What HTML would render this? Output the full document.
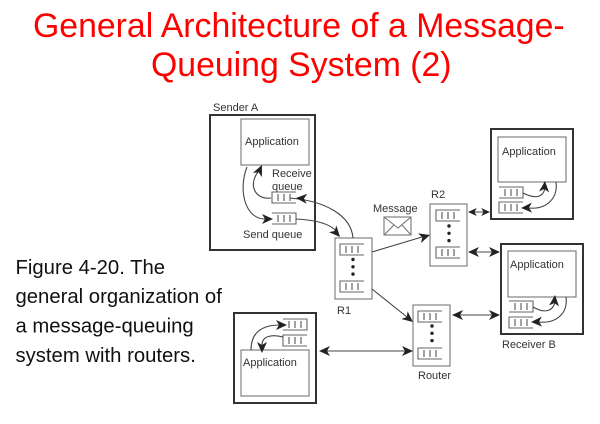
<!DOCTYPE html>
<html><head><meta charset="utf-8"><style>
html,body{margin:0;padding:0;background:#fff}
svg{display:block;position:absolute;left:0;top:0}
.t{font-family:"Liberation Sans",sans-serif}
</style></head><body>
<svg width="600" height="424" viewBox="0 0 600 424" xmlns="http://www.w3.org/2000/svg">
<defs>
<filter id="b" x="-5%" y="-5%" width="110%" height="110%"><feGaussianBlur stdDeviation="0.3"/></filter>
<g id="qL" fill="none" stroke="#666" stroke-width="1.1"><path d="M24 0H0V11H24"/><path d="M6 2V9M12 2V9M18 2V9" stroke="#555"/></g>
<g id="qR" fill="none" stroke="#666" stroke-width="1.1"><path d="M0 0H24V11H0"/><path d="M6 2V9M12 2V9M18 2V9" stroke="#555"/></g>
<path id="ah" d="M0 0L-11 -5L-8 0L-11 5Z" fill="#222"/>
<g id="dots" fill="#222"><circle cx="0" cy="0" r="1.7"/><circle cx="0" cy="7.3" r="1.7"/><circle cx="0" cy="14.6" r="1.7"/></g>
</defs>

<text class="t" x="33" y="37" font-size="33.8" fill="#f00">General Architecture of a Message-</text>
<text class="t" x="151" y="76" font-size="33.8" fill="#f00">Queuing System (2)</text>

<g class="t" font-size="20.3" fill="#111">
<text x="15.5" y="274">Figure 4-20. The</text>
<text x="15.5" y="303">general organization of</text>
<text x="15.5" y="332.5">a message-queuing</text>
<text x="15.5" y="362">system with routers.</text>
</g>

<g filter="url(#b)">
<!-- outer boxes -->
<g fill="none" stroke="#333" stroke-width="2">
<rect x="210" y="115" width="105" height="135"/>
<rect x="491" y="129" width="82" height="90"/>
<rect x="501" y="244" width="82" height="90"/>
<rect x="234" y="313" width="82" height="90"/>
</g>
<!-- applications & routers -->
<g fill="#fff" stroke="#777" stroke-width="1.1">
<rect x="241" y="119" width="68" height="46"/>
<rect x="498" y="137" width="68" height="45"/>
<rect x="508" y="251" width="68" height="46"/>
<rect x="241" y="350" width="68" height="46"/>
<rect x="335" y="238" width="37" height="61"/>
<rect x="430" y="204" width="37" height="62"/>
<rect x="413" y="305" width="37" height="61"/>
</g>
<!-- queues -->
<use href="#qL" x="272" y="192"/>
<use href="#qR" x="272" y="213"/>
<use href="#qR" x="499" y="187"/>
<use href="#qL" x="499" y="202"/>
<use href="#qR" x="509" y="301"/>
<use href="#qL" x="509" y="317"/>
<use href="#qR" x="283" y="319"/>
<use href="#qL" x="283" y="335"/>
<use href="#qL" x="340" y="244"/>
<use href="#qL" x="340" y="281"/>
<use href="#qL" x="436" y="210"/>
<use href="#qL" x="436" y="247"/>
<use href="#qL" x="418" y="311"/>
<use href="#qL" x="418" y="348"/>
<use href="#dots" x="353" y="259.5"/>
<use href="#dots" x="449" y="226"/>
<use href="#dots" x="432" y="326"/>

<!-- connectors -->
<g fill="none" stroke="#444" stroke-width="1.1">
<path d="M271 198C255 200 248 185 258 172"/>
<path d="M247 167C238 190 245 219 265 219"/>
<path d="M296 219C316 220 330 224 336 231"/>
<path d="M353 238C351 215 325 201 290 198"/>
<path d="M372 252L422 237"/>
<path d="M372 289L407 317"/>
<path d="M523 193C535 199 543 198 545 188"/>
<path d="M556 182C558 197 548 210 528 208"/>
<path d="M533 307C545 314 553 311 555 302"/>
<path d="M566 297C568 312 558 324 538 322"/>
<path d="M251 350C251 332 262 325 280 325"/>
<path d="M283 337C272 334 262 336 262 345"/>
<path d="M470 212H487"/>
<path d="M470 252H497"/>
<path d="M454 315H497"/>
<path d="M322 351H409"/>
</g>
<!-- arrowheads -->
<use href="#ah" transform="translate(262,165) rotate(-65)"/>
<use href="#ah" transform="translate(273,219)"/>
<use href="#ah" transform="translate(340,237) rotate(48)"/>
<use href="#ah" transform="translate(296,198) rotate(184)"/>
<use href="#ah" transform="translate(430,235) rotate(-17)"/>
<use href="#ah" transform="translate(413,322) rotate(39)"/>
<use href="#ah" transform="translate(545,181) rotate(-85)"/>
<use href="#ah" transform="translate(521,208) rotate(178)"/>
<use href="#ah" transform="translate(555,295) rotate(-85)"/>
<use href="#ah" transform="translate(531,322) rotate(178)"/>
<use href="#ah" transform="translate(287,325)"/>
<use href="#ah" transform="translate(262,353) rotate(90)"/>
<use href="#ah" transform="translate(468,212) rotate(180) scale(.8)"/>
<use href="#ah" transform="translate(490,212) scale(.8)"/>
<use href="#ah" transform="translate(468,252) rotate(180)"/>
<use href="#ah" transform="translate(500,252)"/>
<use href="#ah" transform="translate(452,315) rotate(180)"/>
<use href="#ah" transform="translate(500,315)"/>
<use href="#ah" transform="translate(319,351) rotate(180)"/>
<use href="#ah" transform="translate(413,351)"/>
<!-- envelope -->
<g fill="#fff" stroke="#777" stroke-width="1.1">
<rect x="384" y="217" width="27" height="18"/>
<path d="M384 217L398 228L411 217M384 235L394 225M411 235L402 225" fill="none"/>
</g>
</g>

<g class="t" font-size="11" fill="#333" filter="url(#b)">
<text x="213" y="111">Sender A</text>
<text x="245" y="145">Application</text>
<text x="272" y="177">Receive</text>
<text x="272" y="190">queue</text>
<text x="243" y="238">Send queue</text>
<text x="373" y="212">Message</text>
<text x="431" y="198">R2</text>
<text x="337" y="314">R1</text>
<text x="502" y="155">Application</text>
<text x="510" y="268">Application</text>
<text x="502" y="348">Receiver B</text>
<text x="418" y="379">Router</text>
<text x="243" y="366">Application</text>
</g>
</svg>
</body></html>
